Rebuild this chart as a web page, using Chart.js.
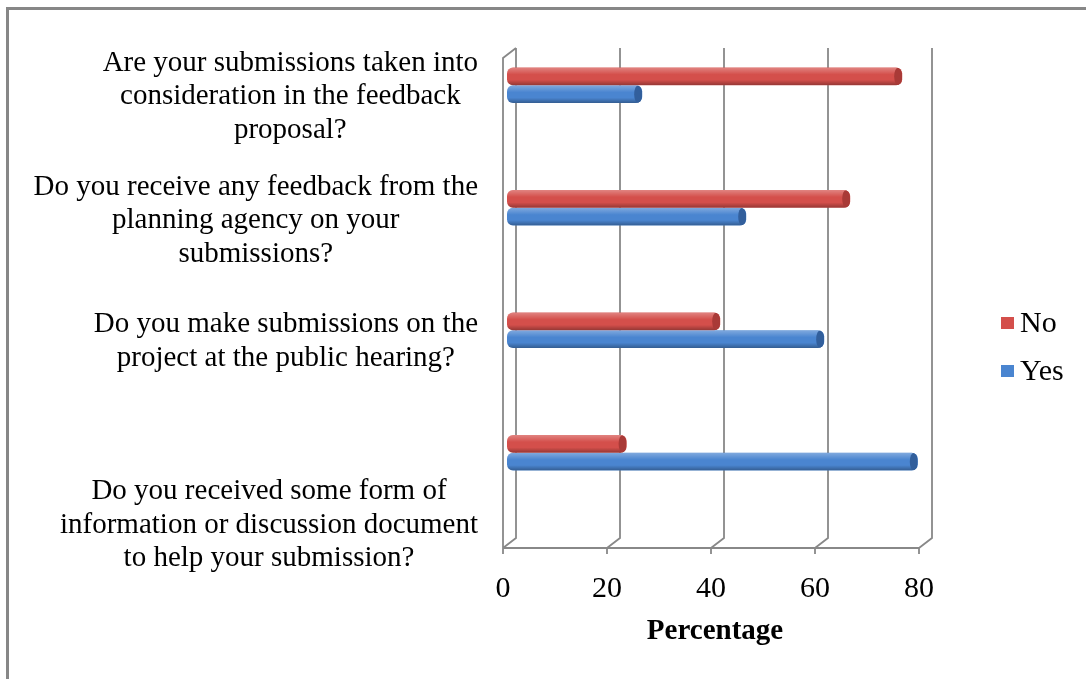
<!DOCTYPE html>
<html>
<head>
<meta charset="utf-8">
<title>Public participation survey</title>
<script src="https://cdn.jsdelivr.net/npm/chart.js@4.4.1/dist/chart.umd.min.js"></script>
<style>
  html, body { margin: 0; padding: 0; background: #fff; }
  #wrap { position: relative; width: 1086px; height: 679px; overflow: hidden; }
  #frame {
    position: absolute; left: 6px; top: 7px; width: 1200px; height: 800px;
    border-left: 3px solid #878787; border-top: 3px solid #878787;
  }
  #myChart { position: absolute; left: 0; top: 0; }
</style>
</head>
<body>
<div id="wrap">
  <div id="frame"></div>
  <canvas id="myChart" width="1086" height="679"></canvas>
</div>
<script>
// Survey questions (one entry per bar group, split into the printed lines)
const questions = [
  ["Are your submissions taken into", "consideration in the feedback", "proposal?"],
  ["Do you receive any feedback from the", "planning agency on your", "submissions?"],
  ["Do you make submissions on the", "project at the public hearing?"],
  ["Do you received some form of", "information or discussion document", "to help your submission?"]
];

// Answer shares in percent
const noValues = [76, 66, 41, 23];
const yesValues = [26, 46, 61, 79];

const seriesNames = ["No", "Yes"];
const seriesColors = ["#d44f4b", "#4a85d0"];
const capColors = ["#a93a37", "#325f9c"];

const serif = "'Liberation Serif', 'Times New Roman', serif";

// 3D looking back wall, side wall and floor edge, drawn behind the bars
const wallGrid = {
  id: "wallGrid",
  beforeDatasetsDraw(chart) {
    const { ctx, chartArea: a, scales: { x } } = chart;
    const dx = 13, dy = 10;
    const front = v => x.getPixelForValue(v) - 4;
    const back = v => front(v) + dx;
    const frontBottom = a.bottom + 34;
    const backBottom = frontBottom - dy;
    const backTop = a.top + 24;
    ctx.save();
    ctx.strokeStyle = "#888888";
    ctx.lineWidth = 1.8;
    ctx.beginPath();
    ctx.moveTo(front(0), frontBottom);
    ctx.lineTo(front(0), backTop + dy);
    ctx.lineTo(back(0), backTop);
    x.ticks.forEach(t => {
      ctx.moveTo(back(t.value), backTop);
      ctx.lineTo(back(t.value), backBottom);
      ctx.lineTo(front(t.value), frontBottom);
      ctx.lineTo(front(t.value), frontBottom + 6);
    });
    ctx.moveTo(front(x.min), frontBottom);
    ctx.lineTo(front(x.max), frontBottom);
    ctx.stroke();
    ctx.restore();
  }
};

// shading + end caps so the bars read as cylinders
const cylinder = {
  id: "cylinder",
  afterDatasetsDraw(chart) {
    const { ctx } = chart;
    chart.data.datasets.forEach((ds, i) => {
      chart.getDatasetMeta(i).data.forEach(bar => {
        const { x, y, base, height } = bar.getProps(["x", "y", "base", "height"], true);
        const top = y - height / 2;
        ctx.save();
        ctx.beginPath();
        ctx.roundRect(base, top, x - base, height, 6);
        ctx.clip();
        const g = ctx.createLinearGradient(0, top, 0, top + height);
        g.addColorStop(0, "rgba(255,255,255,0.30)");
        g.addColorStop(0.4, "rgba(255,255,255,0)");
        g.addColorStop(0.7, "rgba(0,0,0,0)");
        g.addColorStop(1, "rgba(0,0,0,0.30)");
        ctx.fillStyle = g;
        ctx.fillRect(base, top, x - base, height);
        ctx.fillStyle = capColors[i];
        ctx.beginPath();
        ctx.ellipse(x - 4, y, 4, height / 2, 0, 0, Math.PI * 2);
        ctx.fill();
        ctx.restore();
      });
    });
  }
};

// question text on the left and the legend on the right
const sideText = {
  id: "sideText",
  afterDraw(chart) {
    const { ctx, chartArea: a, scales: { y } } = chart;
    const labelShift = [11.5, 13, 11, 72.5];
    ctx.save();
    ctx.font = "29px " + serif;
    ctx.fillStyle = "#000";
    ctx.textAlign = "center";
    ctx.textBaseline = "middle";
    questions.forEach((lines, i) => {
      const w = Math.max(...lines.map(l => ctx.measureText(l).width));
      const cx = a.left - 29 - w / 2;
      const cy = y.getPixelForValue(i) + labelShift[i];
      lines.forEach((l, j) => {
        ctx.fillText(l, cx, cy + (j - (lines.length - 1) / 2) * 33.5);
      });
    });
    ctx.font = "30px " + serif;
    ctx.textAlign = "left";
    chart.data.datasets.forEach((ds, i) => {
      const ly = 323 + i * 48;
      ctx.fillStyle = ds.backgroundColor;
      ctx.fillRect(a.right + 78, ly - 6, 13, 12);
      ctx.fillStyle = "#000";
      ctx.fillText(ds.label, a.right + 97, ly + 1);
    });
    ctx.restore();
  }
};

const data = {
  labels: questions,
  datasets: [
    { label: seriesNames[0], data: noValues, backgroundColor: seriesColors[0] },
    { label: seriesNames[1], data: yesValues, backgroundColor: seriesColors[1] }
  ].map(d => Object.assign(d, {
    categoryPercentage: 0.29,
    barPercentage: 1,
    borderRadius: 6,
    borderSkipped: false
  }))
};

const config = {
  type: "bar",
  data: data,
  options: {
    responsive: false,
    animation: false,
    indexAxis: "y",
    layout: { padding: { left: 507, right: 163, top: 24, bottom: 10 } },
    plugins: { legend: { display: false }, tooltip: { enabled: false } },
    scales: {
      y: { display: false },
      x: {
        min: 0,
        max: 80,
        grid: { display: false },
        border: { display: false },
        afterFit(scale) { scale.height = 155; },
        ticks: {
          stepSize: 20,
          padding: 49,
          labelOffset: -4,
          color: "#000",
          font: { family: serif, size: 30 }
        },
        title: {
          display: true,
          text: "Percentage",
          color: "#000",
          font: { family: serif, size: 29, weight: "bold" },
          padding: { top: 11, bottom: 20 }
        }
      }
    }
  },
  plugins: [wallGrid, cylinder, sideText]
};

new Chart(document.getElementById("myChart"), config);
</script>
</body>
</html>
